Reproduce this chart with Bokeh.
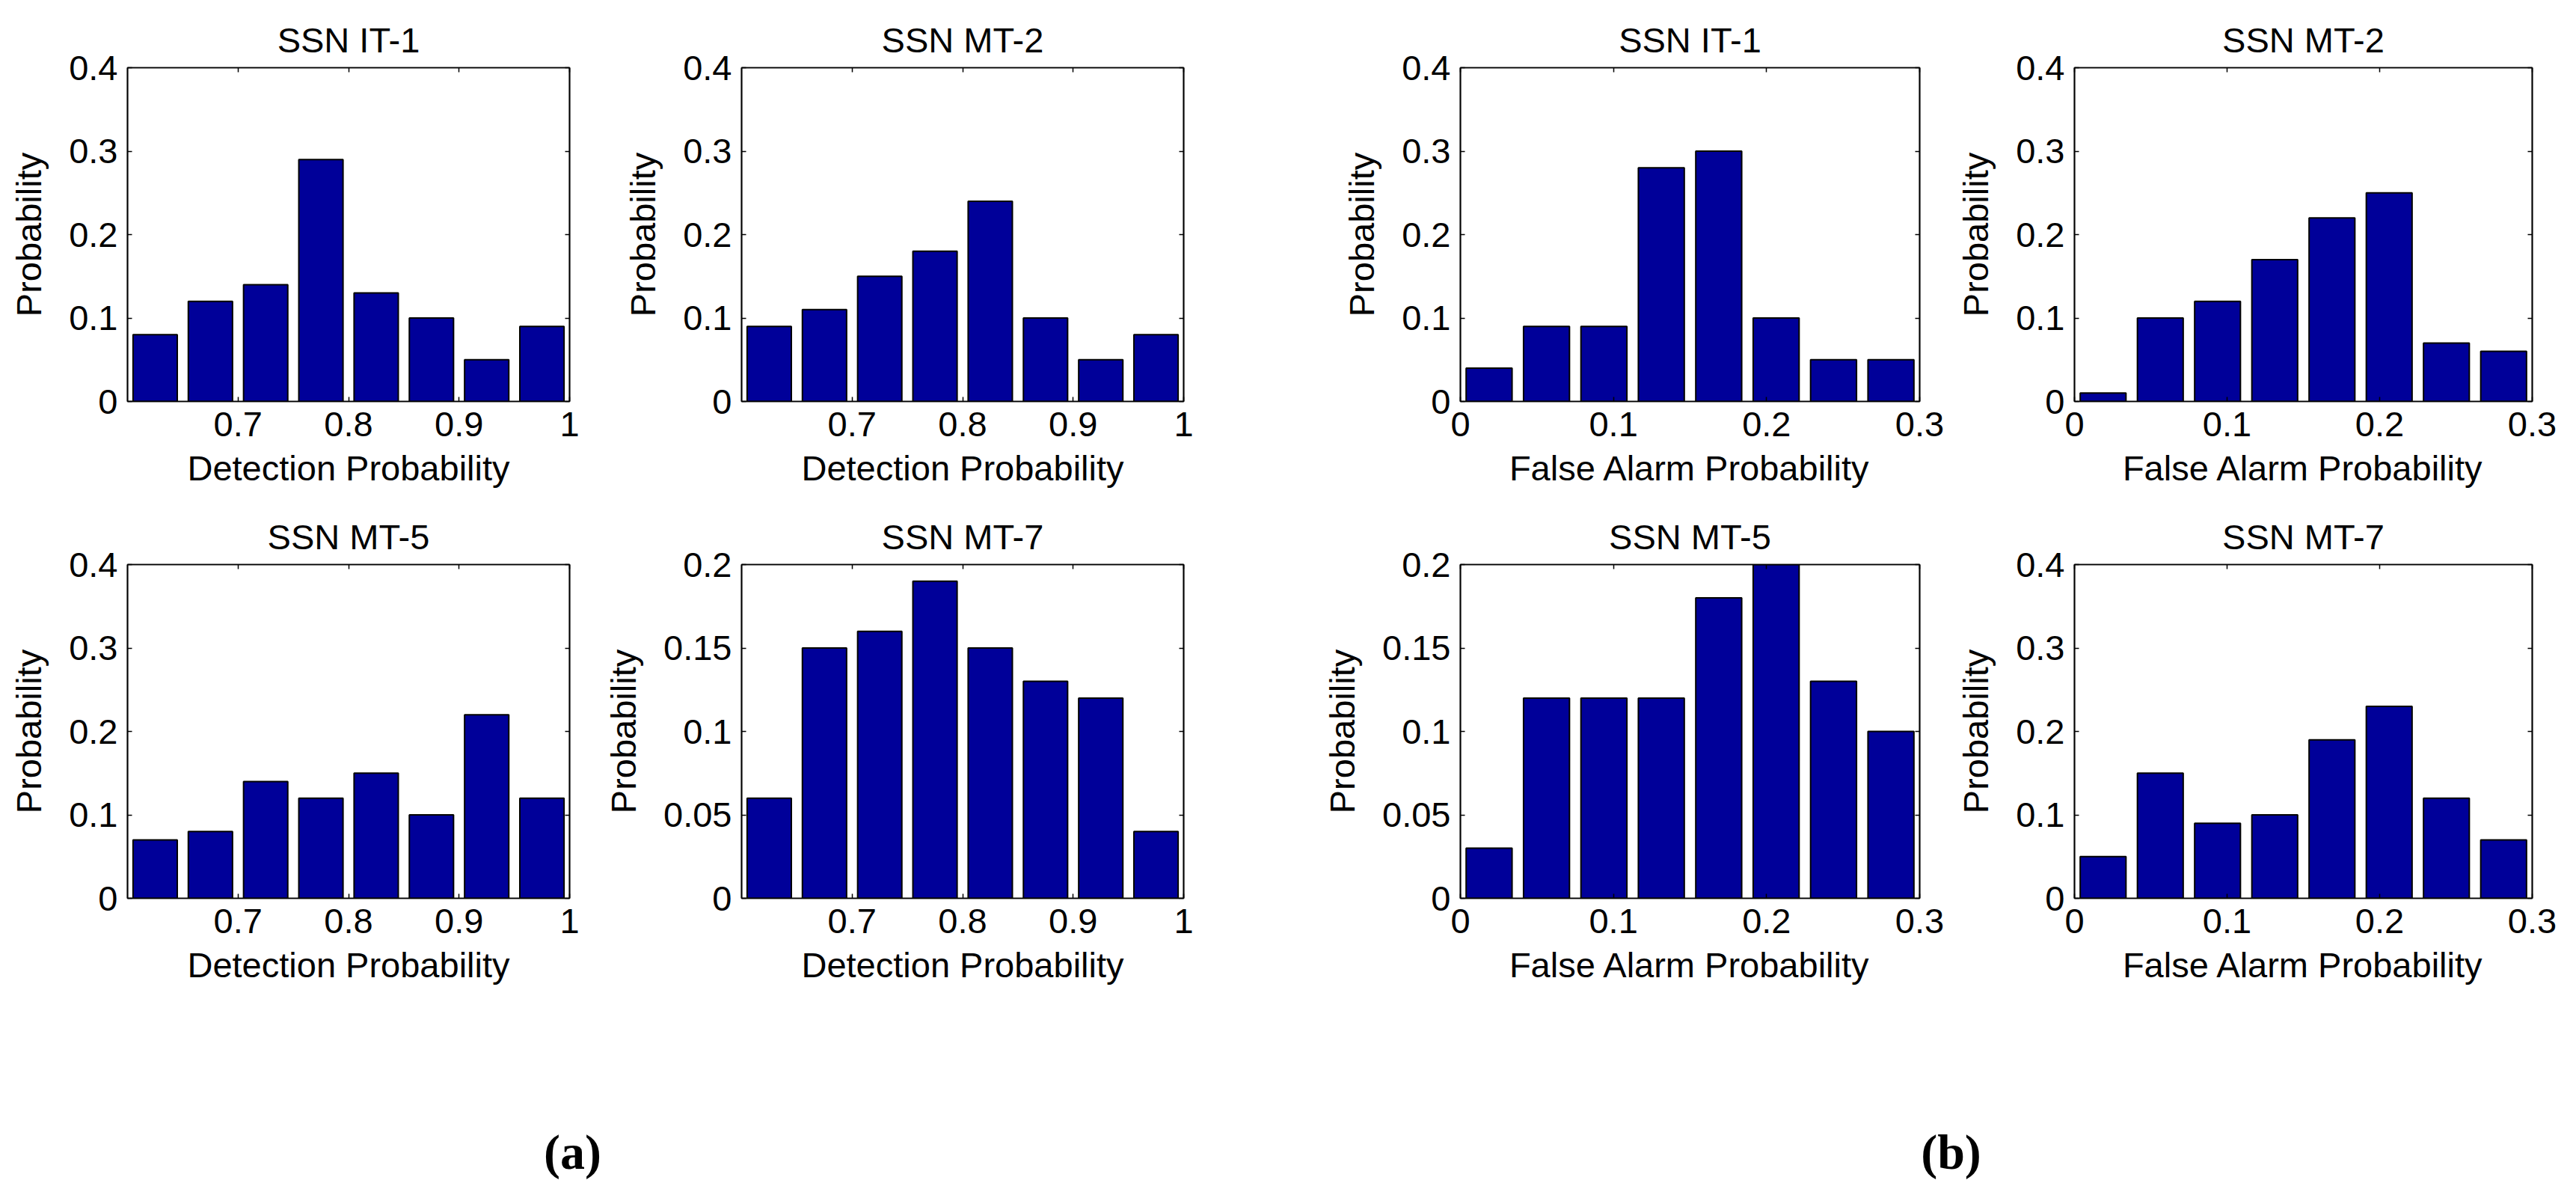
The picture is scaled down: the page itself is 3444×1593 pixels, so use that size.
from bokeh.plotting import figure
from bokeh.layouts import column, row
from bokeh.models import Range1d, FixedTicker, LinearAxis, Label
from bokeh.embed import file_html
from bokeh.resources import INLINE

# ---------------- data ----------------
det_bins = [0.625, 0.675, 0.725, 0.775, 0.825, 0.875, 0.925, 0.975]
fa_bins = [0.01875, 0.05625, 0.09375, 0.13125, 0.16875, 0.20625, 0.24375, 0.28125]

det_it1 = [0.08, 0.12, 0.14, 0.29, 0.13, 0.10, 0.05, 0.09]
det_mt2 = [0.09, 0.11, 0.15, 0.18, 0.24, 0.10, 0.05, 0.08]
det_mt5 = [0.07, 0.08, 0.14, 0.12, 0.15, 0.10, 0.22, 0.12]
det_mt7 = [0.06, 0.15, 0.16, 0.19, 0.15, 0.13, 0.12, 0.04]

fa_it1 = [0.04, 0.09, 0.09, 0.28, 0.30, 0.10, 0.05, 0.05]
fa_mt2 = [0.01, 0.10, 0.12, 0.17, 0.22, 0.25, 0.07, 0.06]
fa_mt5 = [0.03, 0.12, 0.12, 0.12, 0.18, 0.20, 0.13, 0.10]
fa_mt7 = [0.05, 0.15, 0.09, 0.10, 0.19, 0.23, 0.12, 0.07]

det_xticks = [0.7, 0.8, 0.9, 1.0]
det_xtick_labels = ["0.7", "0.8", "0.9", "1"]
fa_xticks = [0.0, 0.1, 0.2, 0.3]
fa_xtick_labels = ["0", "0.1", "0.2", "0.3"]
y_ticks_04 = [0.0, 0.1, 0.2, 0.3, 0.4]
y_labels_04 = ["0", "0.1", "0.2", "0.3", "0.4"]
y_ticks_02 = [0.0, 0.05, 0.1, 0.15, 0.2]
y_labels_02 = ["0", "0.05", "0.1", "0.15", "0.2"]

det_xlabel = "Detection Probability"
fa_xlabel = "False Alarm Probability"
y_label = "Probability"
panel_labels = ["(a)", "(b)"]

# ---------------- style ----------------
FONT = "Liberation Sans"
FS = "47px"
BAR_COLOR = "#000099"
LW = 1.7

DET = dict(bins=det_bins, bar_w=0.04, xr=(0.6, 1.0), xt=det_xticks, xl=det_xtick_labels, xlab=det_xlabel)
FA = dict(bins=fa_bins, bar_w=0.03, xr=(0.0, 0.3), xt=fa_xticks, xl=fa_xtick_labels, xlab=fa_xlabel)
Y4 = dict(yr=(0.0, 0.4), yt=y_ticks_04, yl=y_labels_04)
Y2 = dict(yr=(0.0, 0.2), yt=y_ticks_02, yl=y_labels_02)

# (left border, frame width, right border) per column
COLS = [(170, 591, 39), (191, 591, 118), (252, 614, 44), (163, 612, 45)]
FRAME_H = 446


def style_axis(ax, ticks, labels, show):
    ax.ticker = FixedTicker(ticks=ticks, minor_ticks=[])
    ax.major_tick_in = 6
    ax.major_tick_out = 0
    ax.minor_tick_in = 0
    ax.minor_tick_out = 0
    ax.major_tick_line_color = "black"
    ax.major_tick_line_width = 1.5
    ax.axis_line_color = "black"
    ax.axis_line_width = LW
    if show:
        ax.major_label_overrides = {t: l for t, l in zip(ticks, labels)}
        ax.major_label_text_font = FONT
        ax.major_label_text_font_size = FS
        ax.major_label_text_color = "black"
        ax.axis_label_text_font = FONT
        ax.axis_label_text_font_size = FS
        ax.axis_label_text_font_style = "normal"
        ax.axis_label_text_color = "black"
    else:
        ax.major_label_overrides = {t: "" for t in ticks}
        ax.major_label_text_font_size = "0px"
        ax.major_label_standoff = 0


def panel(title, vals, X, Y, col, bt, bb):
    bl, fw, br = col
    p = figure(width=bl + fw + br, height=bt + FRAME_H + bb,
               min_border_left=bl, min_border_right=br,
               min_border_top=bt, min_border_bottom=bb,
               x_range=Range1d(*X["xr"]), y_range=Range1d(*Y["yr"]),
               x_axis_type=None, y_axis_type=None,
               output_backend="svg", toolbar_location=None)
    p.background_fill_color = "white"
    p.border_fill_color = "white"
    p.outline_line_color = "black"
    p.outline_line_width = LW

    p.vbar(x=X["bins"], top=vals, width=X["bar_w"], bottom=0,
           fill_color=BAR_COLOR, line_color="black", line_width=2)

    xb = LinearAxis(axis_label=X["xlab"])
    style_axis(xb, X["xt"], X["xl"], True)
    xb.major_label_standoff = 14
    xb.axis_label_standoff = 13
    p.add_layout(xb, "below")

    yl = LinearAxis(axis_label=y_label)
    style_axis(yl, Y["yt"], Y["yl"], True)
    yl.major_label_standoff = 13
    yl.axis_label_standoff = 24
    p.add_layout(yl, "left")

    xt = LinearAxis()
    style_axis(xt, X["xt"], X["xl"], False)
    p.add_layout(xt, "above")

    yr = LinearAxis()
    style_axis(yr, Y["yt"], Y["yl"], False)
    p.add_layout(yr, "right")

    p.title.text = title
    p.title.align = "center"
    p.title.text_font = FONT
    p.title.text_font_size = FS
    p.title.text_font_style = "normal"
    p.title.text_color = "black"
    p.title.standoff = 22
    return p


row1 = [
    panel("SSN IT-1", det_it1, DET, Y4, COLS[0], 90, 136),
    panel("SSN MT-2", det_mt2, DET, Y4, COLS[1], 90, 136),
    panel("SSN IT-1", fa_it1, FA, Y4, COLS[2], 90, 136),
    panel("SSN MT-2", fa_mt2, FA, Y4, COLS[3], 90, 136),
]
row2 = [
    panel("SSN MT-5", det_mt5, DET, Y4, COLS[0], 82, 140),
    panel("SSN MT-7", det_mt7, DET, Y2, COLS[1], 82, 140),
    panel("SSN MT-5", fa_mt5, FA, Y2, COLS[2], 82, 140),
    panel("SSN MT-7", fa_mt7, FA, Y4, COLS[3], 82, 140),
]

TOTAL_W = sum(sum(c) for c in COLS)
LAB_H = 251
lab = figure(width=TOTAL_W, height=LAB_H, x_range=Range1d(0, TOTAL_W), y_range=Range1d(0, LAB_H),
             min_border=0, x_axis_type=None, y_axis_type=None, title=None,
             output_backend="svg", toolbar_location=None)
lab.outline_line_color = None
lab.background_fill_color = "white"
lab.border_fill_color = "white"
for txt, xc in zip(panel_labels, [765, 2608]):
    lab.add_layout(Label(x=xc, y=89, text=txt, text_font="Liberation Serif",
                         text_font_size="66px", text_font_style="bold",
                         text_align="center", text_baseline="top",
                         text_color="black"))

layout = column(row(*row1), row(*row2), lab)
open("out.html", "w").write(file_html(layout, INLINE))
